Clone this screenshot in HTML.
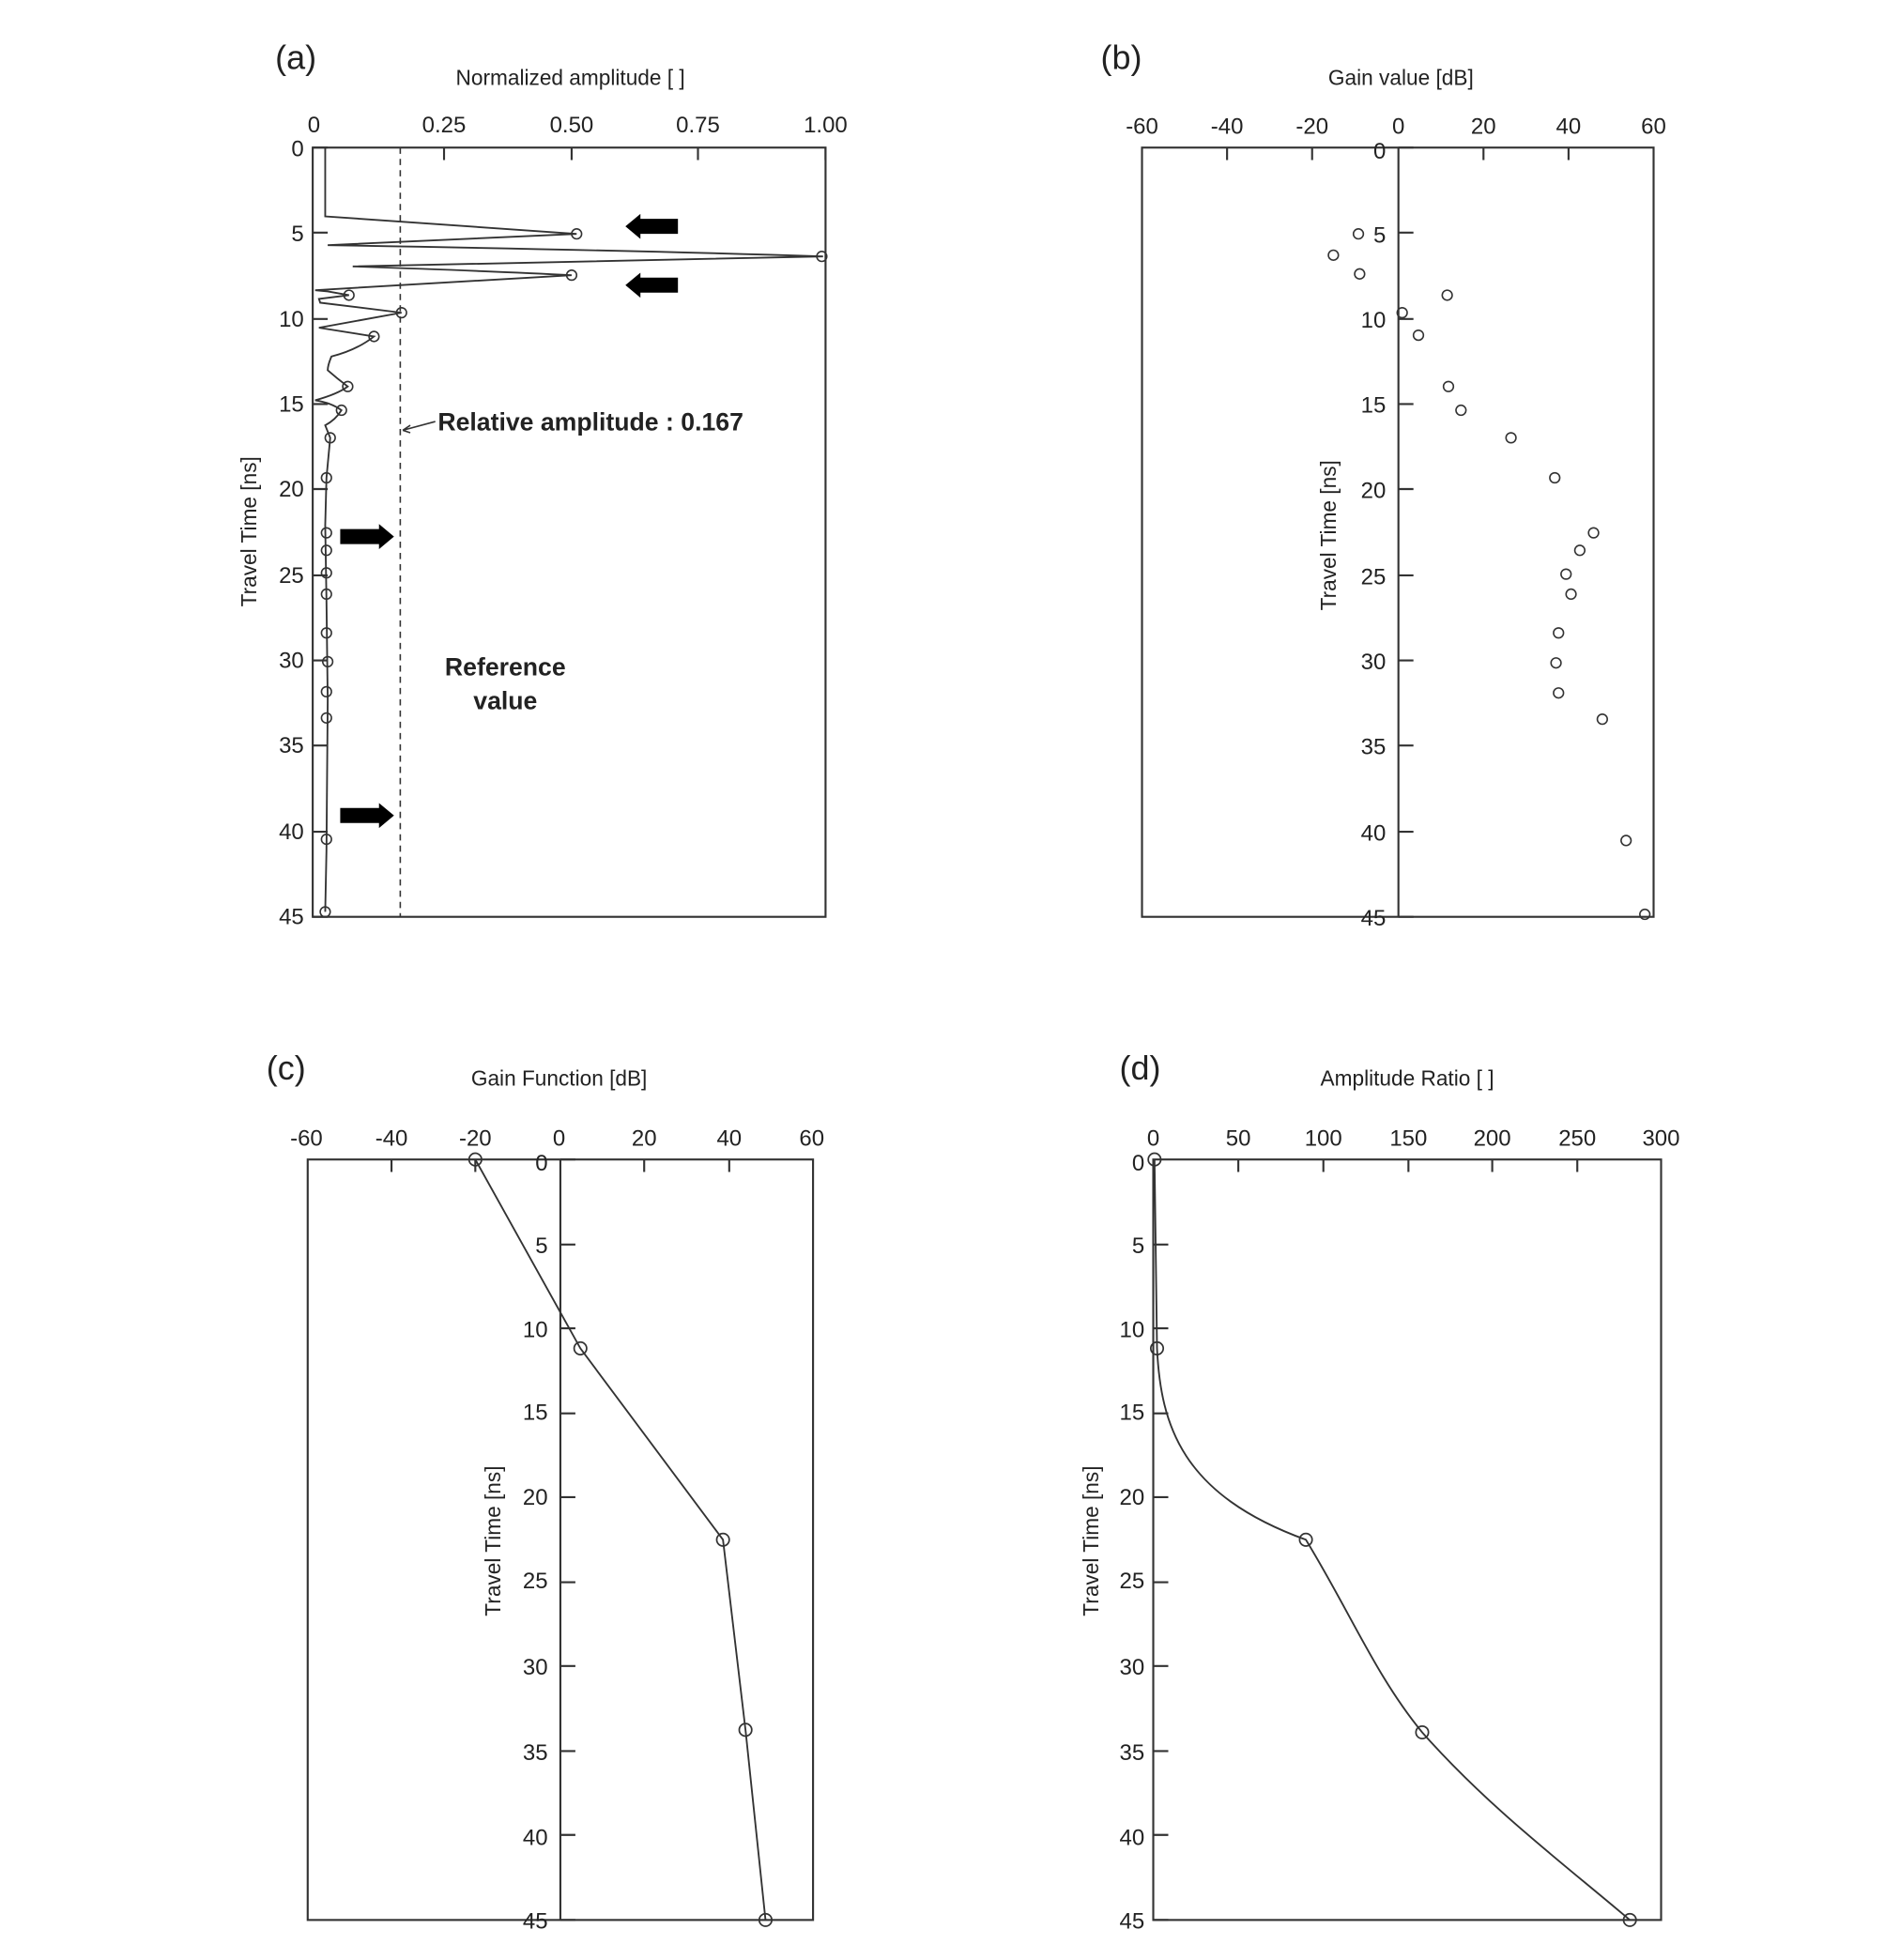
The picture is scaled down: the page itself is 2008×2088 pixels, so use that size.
<!DOCTYPE html>
<html><head><meta charset="utf-8"><style>
html,body{margin:0;padding:0;background:#fff;}
svg{display:block;}
text{font-family:"Liberation Sans",sans-serif;fill:#222;}
</style></head><body>
<svg width="2008" height="2088" viewBox="0 0 1507 1567" preserveAspectRatio="none" xmlns="http://www.w3.org/2000/svg">
<g stroke="#333" stroke-width="1.6" fill="none">
<!-- panel a -->
<rect x="250" y="118" width="410" height="615"/>
<path d="M355 118v10M457 118v10M558 118v10M660 118v10"/>
<path d="M250 118h12M250 186h12M250 255h12M250 323h12M250 391h12M250 460h12M250 528h12M250 596h12M250 665h12M250 733h12"/>
<line x1="320" y1="118" x2="320" y2="733" stroke-dasharray="5,4" stroke-width="1.2"/>
<path stroke-width="1.4" d="M260 118 L260 173 Q300 176 461 187 L262 196 Q500 200 658 205 L282 213 Q400 217 457 220 L252 232 L262 233 L279 236 L255 239 L256 242 L321 250 L255 262 L299 269 Q285 280 265 285 Q262 292 262 296 Q270 303 278 309 Q270 315 252 320 Q265 322 273 328 Q268 336 260 340 L264 350 L261 382 L260 420 L261 480 L262 560 L261 680 L260 729"/>
<path stroke-width="1.2" d="M348 337 L322 344 M322 344 l6 -4 M322 344 l6 2"/>
</g>
<g fill="none" stroke="#333" stroke-width="1.2">
<circle cx="461" cy="187" r="4"/><circle cx="657" cy="205" r="4"/><circle cx="457" cy="220" r="4"/>
<circle cx="279" cy="236" r="4"/><circle cx="321" cy="250" r="4"/><circle cx="299" cy="269" r="4"/>
<circle cx="278" cy="309" r="4"/><circle cx="273" cy="328" r="4"/><circle cx="264" cy="350" r="4"/>
<circle cx="261" cy="382" r="4"/><circle cx="261" cy="426" r="4"/><circle cx="261" cy="440" r="4"/>
<circle cx="261" cy="458" r="4"/><circle cx="261" cy="475" r="4"/><circle cx="261" cy="506" r="4"/>
<circle cx="262" cy="529" r="4"/><circle cx="261" cy="553" r="4"/><circle cx="261" cy="574" r="4"/>
<circle cx="261" cy="671" r="4"/><circle cx="260" cy="729" r="4"/>
</g>
<g fill="#000">
<polygon points="500,181 512,171 512,175 542,175 542,187 512,187 512,191"/>
<polygon points="500,228 512,218 512,222 542,222 542,234 512,234 512,238"/>
<polygon points="315,429 303,419 303,423 272,423 272,435 303,435 303,439"/>
<polygon points="315,652 303,642 303,646 272,646 272,658 303,658 303,662"/>
</g>
<text x="220" y="55" font-size="27">(a)</text>
<text x="456" y="68" font-size="17" text-anchor="middle">Normalized amplitude [ ]</text>
<g font-size="18" text-anchor="middle">
<text x="251" y="106">0</text><text x="355" y="106">0.25</text><text x="457" y="106">0.50</text><text x="558" y="106">0.75</text><text x="660" y="106">1.00</text>
</g>
<g font-size="18" text-anchor="end">
<text x="243" y="125">0</text><text x="243" y="193">5</text><text x="243" y="261">10</text><text x="243" y="329">15</text><text x="243" y="397">20</text><text x="243" y="466">25</text><text x="243" y="534">30</text><text x="243" y="602">35</text><text x="243" y="671">40</text><text x="243" y="739">45</text>
</g>
<text transform="translate(205,425) rotate(-90)" font-size="17" text-anchor="middle">Travel Time [ns]</text>
<text x="350" y="344" font-size="20" font-weight="bold">Relative amplitude : 0.167</text>
<text x="404" y="540" font-size="20" font-weight="bold" text-anchor="middle">Reference</text>
<text x="404" y="567" font-size="20" font-weight="bold" text-anchor="middle">value</text>

<!-- panel b -->
<g stroke="#333" stroke-width="1.6" fill="none">
<rect x="913" y="118" width="409" height="615"/>
<line x1="1118" y1="118" x2="1118" y2="733"/>
<path d="M981 118v10M1049 118v10M1186 118v10M1254 118v10"/>
<path d="M1118 118h12M1118 186h12M1118 255h12M1118 323h12M1118 391h12M1118 460h12M1118 528h12M1118 596h12M1118 665h12M1118 733h12"/>
</g>
<g fill="none" stroke="#333" stroke-width="1.2">
<circle cx="1086" cy="187" r="4"/><circle cx="1066" cy="204" r="4"/><circle cx="1087" cy="219" r="4"/><circle cx="1157" cy="236" r="4"/><circle cx="1121" cy="250" r="4"/><circle cx="1134" cy="268" r="4"/><circle cx="1158" cy="309" r="4"/><circle cx="1168" cy="328" r="4"/><circle cx="1208" cy="350" r="4"/><circle cx="1243" cy="382" r="4"/><circle cx="1274" cy="426" r="4"/><circle cx="1263" cy="440" r="4"/><circle cx="1252" cy="459" r="4"/><circle cx="1256" cy="475" r="4"/><circle cx="1246" cy="506" r="4"/><circle cx="1244" cy="530" r="4"/><circle cx="1246" cy="554" r="4"/><circle cx="1281" cy="575" r="4"/><circle cx="1300" cy="672" r="4"/><circle cx="1315" cy="731" r="4"/>
</g>
<text x="880" y="55" font-size="27">(b)</text>
<text x="1120" y="68" font-size="17" text-anchor="middle">Gain value [dB]</text>
<g font-size="18" text-anchor="middle">
<text x="913" y="107">-60</text><text x="981" y="107">-40</text><text x="1049" y="107">-20</text><text x="1118" y="107">0</text><text x="1186" y="107">20</text><text x="1254" y="107">40</text><text x="1322" y="107">60</text>
</g>
<g font-size="18" text-anchor="end">
<text x="1108" y="127">0</text><text x="1108" y="194">5</text><text x="1108" y="262">10</text><text x="1108" y="330">15</text><text x="1108" y="398">20</text><text x="1108" y="467">25</text><text x="1108" y="535">30</text><text x="1108" y="603">35</text><text x="1108" y="672">40</text><text x="1108" y="740">45</text>
</g>
<text transform="translate(1068,428) rotate(-90)" font-size="17" text-anchor="middle">Travel Time [ns]</text>

<!-- panel c -->
<g stroke="#333" stroke-width="1.6" fill="none">
<rect x="246" y="927" width="404" height="608"/>
<line x1="448" y1="927" x2="448" y2="1535"/>
<path d="M313 927v10M380 927v10M515 927v10M583 927v10"/>
<path d="M448 927h12M448 995h12M448 1062h12M448 1130h12M448 1197h12M448 1265h12M448 1332h12M448 1400h12M448 1467h12M448 1535h12"/>
<polyline stroke-width="1.4" points="380,927 464,1078 578,1231 596,1383 612,1535"/>
</g>
<g fill="none" stroke="#333" stroke-width="1.3">
<circle cx="380" cy="927" r="5"/><circle cx="464" cy="1078" r="5"/><circle cx="578" cy="1231" r="5"/><circle cx="596" cy="1383" r="5"/><circle cx="612" cy="1535" r="5"/>
</g>
<text x="213" y="863" font-size="27">(c)</text>
<text x="447" y="868" font-size="17" text-anchor="middle">Gain Function [dB]</text>
<g font-size="18" text-anchor="middle">
<text x="245" y="916">-60</text><text x="313" y="916">-40</text><text x="380" y="916">-20</text><text x="447" y="916">0</text><text x="515" y="916">20</text><text x="583" y="916">40</text><text x="649" y="916">60</text>
</g>
<g font-size="18" text-anchor="end">
<text x="438" y="936">0</text><text x="438" y="1002">5</text><text x="438" y="1069">10</text><text x="438" y="1135">15</text><text x="438" y="1203">20</text><text x="438" y="1270">25</text><text x="438" y="1339">30</text><text x="438" y="1407">35</text><text x="438" y="1475">40</text><text x="438" y="1542">45</text>
</g>
<text transform="translate(400,1232) rotate(-90)" font-size="17" text-anchor="middle">Travel Time [ns]</text>

<!-- panel d -->
<g stroke="#333" stroke-width="1.6" fill="none">
<rect x="922" y="927" width="406" height="608"/>
<path d="M990 927v10M1058 927v10M1126 927v10M1193 927v10M1261 927v10"/>
<path d="M922 995h12M922 1062h12M922 1130h12M922 1197h12M922 1265h12M922 1332h12M922 1400h12M922 1467h12M922 1535h12"/>
<path stroke-width="1.4" d="M923 927 L925 1078 C928 1140 945 1195 1044 1231 C1080 1290 1100 1340 1137 1385 C1190 1445 1250 1490 1303 1535"/>
</g>
<g fill="none" stroke="#333" stroke-width="1.3">
<circle cx="923" cy="927" r="5"/><circle cx="925" cy="1078" r="5"/><circle cx="1044" cy="1231" r="5"/><circle cx="1137" cy="1385" r="5"/><circle cx="1303" cy="1535" r="5"/>
</g>
<text x="895" y="863" font-size="27">(d)</text>
<text x="1125" y="868" font-size="17" text-anchor="middle">Amplitude Ratio [ ]</text>
<g font-size="18" text-anchor="middle">
<text x="922" y="916">0</text><text x="990" y="916">50</text><text x="1058" y="916">100</text><text x="1126" y="916">150</text><text x="1193" y="916">200</text><text x="1261" y="916">250</text><text x="1328" y="916">300</text>
</g>
<g font-size="18" text-anchor="end">
<text x="915" y="936">0</text><text x="915" y="1002">5</text><text x="915" y="1069">10</text><text x="915" y="1135">15</text><text x="915" y="1203">20</text><text x="915" y="1270">25</text><text x="915" y="1339">30</text><text x="915" y="1407">35</text><text x="915" y="1475">40</text><text x="915" y="1542">45</text>
</g>
<text transform="translate(878,1232) rotate(-90)" font-size="17" text-anchor="middle">Travel Time [ns]</text>
</svg>
</body></html>
